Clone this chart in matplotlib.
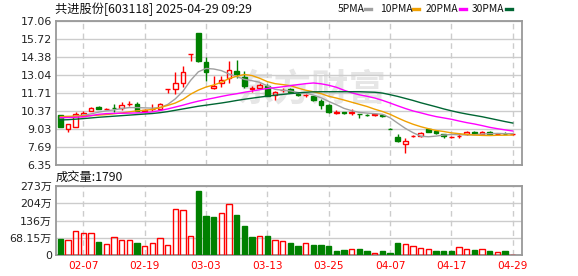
import numpy as np
import matplotlib
matplotlib.use("Agg")
import matplotlib.pyplot as plt
from matplotlib.lines import Line2D

plt.rcParams['font.family'] = ['DejaVu Sans', 'Noto Sans CJK SC']

# trading days shown (01-27 is the last bar before the spring holiday)
dates = ['01-27', '02-05', '02-06', '02-07', '02-10', '02-11', '02-12', '02-13', '02-14', '02-17',
         '02-18', '02-19', '02-20', '02-21', '02-24', '02-25', '02-26', '02-27', '02-28', '03-03',
         '03-04', '03-05', '03-06', '03-07', '03-10', '03-11', '03-12', '03-13', '03-14', '03-17',
         '03-18', '03-19', '03-20', '03-21', '03-24', '03-25', '03-26', '03-27', '03-28', '03-31',
         '04-01', '04-02', '04-03', '04-07', '04-08', '04-09', '04-10', '04-11', '04-14', '04-15',
         '04-16', '04-17', '04-18', '04-21', '04-22', '04-23', '04-24', '04-25', '04-28', '04-29']
label_dates = ['02-07', '02-19', '03-03', '03-13', '03-25', '04-07', '04-17', '04-29']

opens = [10.07, 9.00, 9.20, 10.02, 10.40, 10.68, 10.52, 10.58, 10.62, 10.87,
         10.89, 10.33, 10.50, 10.52, 12.00, 11.98, 12.45, 14.63, 16.15, 14.00,
         12.05, 12.42, 12.82, 13.36, 12.90, 12.00, 12.10, 12.25, 11.56, 11.90,
         12.00, 11.60, 11.54, 11.48, 11.08, 10.84, 10.25, 10.28, 10.25, 10.16,
         10.10, 10.08, 10.05, 9.01, 8.40, 7.90, 8.48, 8.47, 9.03, 8.88,
         8.65, 8.42, 8.50, 8.62, 8.82, 8.66, 8.82, 8.62, 8.68, 8.64]
closes = [9.21, 9.38, 10.12, 10.19, 10.57, 10.50, 10.55, 10.56, 10.80, 10.90,
          10.40, 10.45, 10.55, 10.91, 12.00, 12.43, 13.30, 14.63, 14.05, 13.25,
          12.23, 12.67, 13.42, 13.10, 12.20, 12.06, 12.30, 11.50, 11.76, 11.95,
          11.80, 11.55, 11.58, 11.15, 10.78, 10.32, 10.30, 10.25, 10.29, 10.12,
          10.08, 10.12, 10.00, 9.00, 8.10, 8.13, 8.52, 8.71, 8.84, 8.72,
          8.47, 8.45, 8.53, 8.78, 8.68, 8.82, 8.62, 8.65, 8.63, 8.66]
highs = [10.10, 9.38, 10.31, 10.37, 10.65, 10.72, 10.60, 10.86, 11.03, 11.13,
         11.00, 10.50, 10.88, 10.95, 12.00, 13.24, 13.70, 14.63, 16.15, 14.36,
         13.00, 12.95, 14.06, 14.16, 13.35, 12.23, 12.43, 12.35, 11.85, 12.10,
         12.05, 11.68, 11.65, 11.50, 11.25, 10.85, 10.45, 10.32, 10.48, 10.18,
         10.18, 10.20, 10.10, 9.12, 8.62, 8.33, 8.55, 8.80, 9.10, 8.95,
         8.68, 8.48, 8.75, 8.85, 8.88, 8.88, 8.85, 8.70, 8.80, 8.67]
lows = [9.20, 8.78, 9.15, 10.00, 10.38, 10.48, 10.50, 10.28, 10.44, 10.75,
        10.38, 10.30, 10.35, 10.45, 11.68, 11.63, 12.13, 14.09, 14.03, 12.62,
        11.98, 12.13, 12.43, 12.80, 12.07, 11.78, 12.08, 11.45, 11.18, 11.75,
        11.75, 11.45, 11.38, 11.12, 10.50, 10.20, 10.15, 10.18, 10.08, 9.87,
        10.00, 10.00, 9.92, 9.00, 8.05, 7.27, 8.45, 8.45, 8.80, 8.62,
        8.38, 8.36, 8.38, 8.58, 8.62, 8.62, 8.58, 8.58, 8.62, 8.56]
prev_close = 10.25

# volume in 万 (hands)
volumes = [64.5, 59.3, 94.0, 86.5, 86.5, 52.0, 43.5, 69.8, 59.3, 59.3,
           48.0, 35.6, 46.5, 66.5, 39.0, 181.0, 177.0, 74.5, 253.5, 155.0,
           150.0, 164.7, 200.0, 158.0, 114.6, 71.1, 73.8, 75.0, 58.5, 54.0,
           47.4, 35.6, 46.0, 39.5, 39.5, 35.6, 15.8, 19.8, 23.0, 23.7,
           15.8, 9.2, 15.8, 7.9, 47.4, 42.1, 34.2, 29.0, 23.7, 15.8,
           15.8, 15.8, 31.6, 23.7, 19.8, 23.7, 15.8, 13.2, 15.8, 0.179]

ma5 = [9.85, 9.90, 10.00, 10.05, 10.15, 10.28, 10.38, 10.45, 10.55, 10.62,
       10.62, 10.60, 10.58, 10.62, 10.85, 11.27, 11.84, 12.65, 13.28, 13.53,
       13.49, 13.37, 13.12, 12.93, 12.72, 12.62, 12.50, 12.23, 11.98, 11.91,
       11.86, 11.74, 11.70, 11.55, 11.35, 11.08, 10.83, 10.56, 10.39, 10.26,
       10.21, 10.17, 10.12, 9.86, 9.46, 9.07, 8.75, 8.49, 8.45, 8.50,
       8.58, 8.62, 8.60, 8.59, 8.60, 8.65, 8.68, 8.70, 8.68, 8.68]
ma10 = [9.95, 9.97, 9.98, 10.00, 10.02, 10.06, 10.10, 10.16, 10.22, 10.30,
        10.38, 10.42, 10.48, 10.62, 10.78, 10.96, 11.23, 11.62, 11.92, 12.15,
        12.30, 12.50, 12.78, 12.95, 13.08, 13.00, 12.80, 12.55, 12.40, 12.33,
        12.25, 12.07, 11.91, 11.80, 11.66, 11.46, 11.33, 11.18, 11.02, 10.86,
        10.70, 10.50, 10.33, 10.12, 9.85, 9.60, 9.38, 9.20, 9.05, 8.92,
        8.84, 8.74, 8.68, 8.62, 8.58, 8.55, 8.54, 8.56, 8.57, 8.58]
ma20 = [9.88, 9.88, 9.90, 9.93, 10.02, 10.12, 10.17, 10.19, 10.20, 10.21,
        10.22, 10.25, 10.30, 10.40, 10.52, 10.66, 10.80, 10.96, 11.10, 11.22,
        11.33, 11.45, 11.56, 11.65, 11.76, 11.85, 11.95, 12.04, 12.10, 12.17,
        12.25, 12.33, 12.40, 12.45, 12.39, 12.28, 12.13, 11.91, 11.72, 11.57,
        11.46, 11.33, 11.16, 10.96, 10.75, 10.55, 10.37, 10.23, 10.08, 9.95,
        9.85, 9.75, 9.62, 9.50, 9.40, 9.28, 9.15, 9.05, 8.96, 8.88]
ma30 = [9.70, 9.72, 9.76, 9.80, 9.85, 9.90, 9.94, 9.98, 10.02, 10.06,
        10.10, 10.14, 10.18, 10.24, 10.32, 10.42, 10.52, 10.62, 10.72, 10.80,
        10.88, 10.96, 11.05, 11.15, 11.24, 11.32, 11.40, 11.47, 11.54, 11.60,
        11.66, 11.71, 11.76, 11.79, 11.80, 11.80, 11.80, 11.80, 11.80, 11.80,
        11.78, 11.76, 11.70, 11.58, 11.45, 11.30, 11.15, 10.98, 10.83, 10.68,
        10.52, 10.38, 10.25, 10.14, 10.04, 9.94, 9.82, 9.70, 9.58, 9.47]

price_ticks = [6.35, 7.69, 9.03, 10.37, 11.71, 13.04, 14.38, 15.72, 17.06]
vol_ticks = [0, 68.15, 136.3, 204.45, 272.6]
vol_labels = ['0', '68.15万', '136万', '204万', '273万']

RED = '#ff0000'
GREEN = '#008000'
GRID = '#cccccc'
SPINE = '#999999'

o = np.array(opens); c = np.array(closes)
h = np.array(highs); l = np.array(lows)
x = np.arange(len(dates))
up = c >= o
cols = np.where(up, RED, GREEN)
prev = np.concatenate([[prev_close], c[:-1]])
vol_cols = np.where(c >= prev, RED, GREEN)

W, H = 578, 276
fig = plt.figure(figsize=(W / 100, H / 100), dpi=100)
ax = fig.add_axes([56 / W, 1 - 165 / H, 466 / W, 144 / H])
axv = fig.add_axes([56 / W, 1 - 255 / H, 466 / W, 69 / H], sharex=ax)

# candles
body_lo = np.minimum(o, c)
body_hi = np.maximum(o, c)
ax.vlines(x, l, body_lo, colors=cols, lw=1, zorder=2)
ax.vlines(x, body_hi, h, colors=cols, lw=1, zorder=2)
ax.bar(x, np.maximum(body_hi - body_lo, 0.01), bottom=body_lo, width=0.6,
       facecolor=np.where(up, 'none', GREEN), edgecolor=cols, lw=1, zorder=3)

# moving averages
for vals, col in [(ma5, '#a0a0a0'), (ma10, '#f0a000'), (ma20, '#ff00ff'), (ma30, '#006633')]:
    ax.plot(x, vals, color=col, lw=1, zorder=4)

ax.text(0.55, 0.52, '东方财富', transform=ax.transAxes, fontsize=27,
        family=['Noto Sans CJK SC'], fontweight='bold', color='#e6e6e6',
        ha='center', va='center', zorder=0.5)

# volume
axv.bar(x, volumes, width=0.7, facecolor=np.where(vol_cols == RED, 'none', GREEN),
        edgecolor=vol_cols, lw=1, zorder=3)

tick_pos = [dates.index(d) for d in label_dates]
for a in (ax, axv):
    a.set_xlim(-0.56, 60.2)
    a.set_xticks(tick_pos)
    a.xaxis.grid(True, color=GRID, ls=(0, (4, 3)), lw=1)
    a.yaxis.grid(True, color=GRID, ls='-', lw=1)
    a.set_axisbelow(True)
    for s in a.spines.values():
        s.set_color(SPINE)
        s.set_linewidth(1.3)
    a.tick_params(length=0, labelsize=7.9, colors='#222222', pad=3)

ax.set_ylim(price_ticks[0], price_ticks[-1])
ax.set_yticks(price_ticks)
ax.set_yticklabels(['%.2f' % v for v in price_ticks])
ax.tick_params(labelbottom=False)

axv.set_ylim(0, vol_ticks[-1])
axv.set_yticks(vol_ticks)
axv.set_yticklabels(vol_labels)
axv.set_xticklabels(label_dates)
axv.tick_params(axis='x', colors=RED, labelsize=7.6, pad=4)

# header texts
cjk = ['Noto Sans CJK SC', 'DejaVu Sans']
fig.text(55 / W, 1 - 9 / H, '共进股份[603118] 2025-04-29 09:29', family=cjk,
         fontsize=8.8, color='#111111', va='center', ha='left')
fig.text(56 / W, 1 - 177 / H, '成交量:1790', family=cjk,
         fontsize=8.8, color='#111111', va='center', ha='left')

legend = [('5PMA', '#a0a0a0', 338, 365), ('10PMA', '#f0a000', 380, 413),
          ('20PMA', '#ff00ff', 426, 460), ('30PMA', '#006633', 472, 506)]
for name, col, tx, lx in legend:
    fig.text(tx / W, 1 - 9 / H, name, family=cjk, fontsize=7.4,
             color='#111111', va='center', ha='left')
    fig.add_artist(Line2D([lx / W, (lx + 6) / W], [1 - 9 / H, 1 - 9 / H],
                          color=col, lw=2.4, transform=fig.transFigure))

fig.savefig('out.png', dpi=100)
